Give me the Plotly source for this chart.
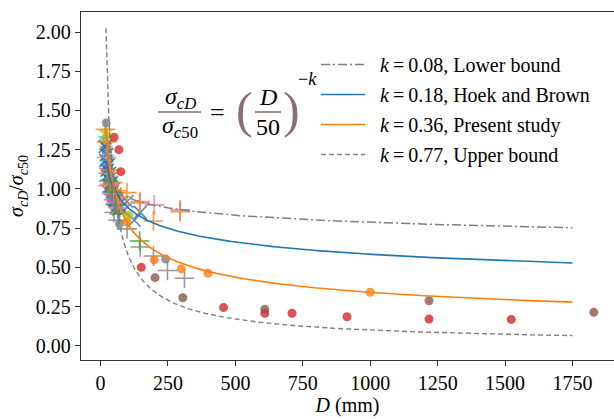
import numpy as np
import plotly.graph_objects as go

# Size-effect model curves: sigma_cD / sigma_c50 = (D / 50)^(-k)
k_values = [0.08, 0.18, 0.36, 0.77]
curve_labels = ["Lower bound", "Hoek and Brown", "Present study", "Upper bound"]
D_ref = 50.0
D_min, D_max = 20.0, 1750.0

# Test data, one array pair per marker group (D in mm, normalized strength)
red_D = [50, 68, 75, 151, 456, 609, 710, 914, 1218, 1523]
red_r = [1.33, 1.25, 1.11, 0.50, 0.243, 0.207, 0.207, 0.185, 0.170, 0.168]

brown_D = [202, 305, 609, 1218, 1829]
brown_r = [0.434, 0.306, 0.232, 0.287, 0.213]

gray_dot_D = [21, 70, 241]
gray_dot_r = [1.42, 0.777, 0.553]

orange_dot_D = [98, 199, 299, 398, 1000]
orange_dot_r = [0.79, 0.547, 0.49, 0.462, 0.341]

olive_dot_D = [103]
olive_dot_r = [0.83]

blue_x_D = [17, 19, 22, 24, 27, 30, 33, 36, 40, 44, 48, 52, 57, 62, 68, 75, 85, 98, 125, 147]
blue_x_r = [1.27, 1.18, 1.22, 1.12, 1.15, 1.06, 1.10, 1.02, 1.04, 0.98, 1.00, 0.96,
            0.93, 0.94, 0.90, 0.88, 0.86, 0.92, 0.80, 0.85]

cyan_D = [16, 18, 21, 23, 26, 29, 32, 35, 38, 42, 46]
cyan_r = [1.32, 1.24, 1.28, 1.16, 1.20, 1.08, 1.12, 1.03, 1.06, 0.99, 0.96]

olive_star_D = [19, 21, 24, 28, 31, 35, 40, 45, 55]
olive_star_r = [1.36, 1.30, 1.24, 1.18, 1.09, 1.02, 0.98, 0.93, 0.89]

purple_D = [18, 20, 23, 26, 30, 34, 38, 43, 50, 58]
purple_r = [1.12, 1.26, 1.05, 1.14, 1.00, 1.07, 0.95, 0.92, 0.88, 0.86]

pink_D = [22, 27, 33, 40, 48, 56, 65, 80, 147, 199, 295]
pink_r = [1.20, 1.10, 1.03, 0.97, 0.93, 0.91, 0.88, 0.90, 0.919, 0.898, 0.866]

orange_plus_D = [18, 23, 28, 35, 45, 60, 75, 98, 145, 196, 295]
orange_plus_r = [1.38, 1.30, 1.02, 1.12, 1.04, 0.99, 0.95, 0.976, 0.91, 0.795, 0.855]

gray_plus_D = [50, 65, 98, 147, 196, 248, 311]
gray_plus_r = [0.85, 0.80, 0.745, 0.63, 0.572, 0.48, 0.43]

green_plus_D = [30, 42, 55, 70, 145]
green_plus_r = [1.05, 0.98, 0.90, 0.84, 0.668]

x_ticks = [0, 250, 500, 750, 1000, 1250, 1500, 1750]
y_ticks = [0.00, 0.25, 0.50, 0.75, 1.00, 1.25, 1.50, 1.75, 2.00]

SERIF = "Liberation Serif"
BLUE, ORANGE, GREEN, RED = "#1f77b4", "#ff7f0e", "#2ca02c", "#d62728"
PURPLE, BROWN, PINK, GRAY = "#9467bd", "#8c564b", "#e377c2", "#7f7f7f"
OLIVE, CYAN = "#bcbd22", "#17becf"
BRACKET = "#8a7070"

fig = go.Figure()


def add_points(xs, ys, color, symbol, size, line=False):
    marker = dict(color=color, symbol=symbol, size=size, opacity=0.8)
    if line:
        marker["line"] = dict(color=color, width=1.6)
    else:
        marker["line"] = dict(width=0)
    fig.add_trace(go.Scatter(x=xs, y=ys, mode="markers", marker=marker,
                             showlegend=False, hoverinfo="skip"))


add_points(cyan_D, cyan_r, CYAN, "star", 11)
add_points(olive_star_D, olive_star_r, OLIVE, "star", 12)
add_points(purple_D, purple_r, PURPLE, "star", 11)
add_points(blue_x_D, blue_x_r, BLUE, "x-thin", 13, line=True)
add_points(pink_D, pink_r, PINK, "cross-thin", 14, line=True)
add_points(orange_plus_D, orange_plus_r, ORANGE, "cross-thin", 14, line=True)
add_points(gray_plus_D, gray_plus_r, GRAY, "cross-thin", 14, line=True)
add_points(green_plus_D, green_plus_r, GREEN, "cross-thin", 14, line=True)
add_points(red_D, red_r, RED, "circle", 9)
add_points(brown_D, brown_r, BROWN, "circle", 9)
add_points(gray_dot_D, gray_dot_r, GRAY, "circle", 9)
add_points(orange_dot_D, orange_dot_r, ORANGE, "circle", 9)
add_points(olive_dot_D, olive_dot_r, OLIVE, "circle", 10)

# Model curves
D_curve = np.linspace(D_min, D_max, 500)
curve_styles = [
    dict(color=GRAY, width=1.5, dash="9px,3px,2px,3px"),
    dict(color=BLUE, width=1.6, dash="solid"),
    dict(color=ORANGE, width=1.6, dash="solid"),
    dict(color=GRAY, width=1.4, dash="5px,3px"),
]
for i, (k, label, style) in enumerate(zip(k_values, curve_labels, curve_styles)):
    fig.add_trace(go.Scatter(
        x=D_curve, y=(D_curve / D_ref) ** (-k), mode="lines", line=style,
        name=f"\u2002<i>k</i>\u2009=\u2009{k:.2f}, {label}", legendgroup=f"g{i}",
    ))

W, H = 614, 419
ML, MR, MT, MB = 81, 0, 12, 59


def px(xp, yp):
    """Pixel position in the page to paper coordinates."""
    return (xp - ML) / (W - ML - MR), 1 - (yp - MT) / (H - MT - MB)


annotations = []
shapes = []


def text(xp, yp, s, size, color="black", xanchor="center"):
    x, y = px(xp, yp)
    annotations.append(dict(x=x, y=y, xref="paper", yref="paper", text=s,
                            showarrow=False, xanchor=xanchor, yanchor="middle",
                            font=dict(family=SERIF, size=size, color=color)))


def hbar(x0p, x1p, yp, color=BRACKET):
    x0, y = px(x0p, yp)
    x1, _ = px(x1p, yp)
    shapes.append(dict(type="line", xref="paper", yref="paper", x0=x0, x1=x1,
                       y0=y, y1=y, line=dict(color=color, width=1.6)))


# Formula: sigma_cD / sigma_c50 = (D/50)^-k
text(180, 98, "<i>σ</i><sub><i>cD</i></sub>", 24)
hbar(158, 201, 112)
text(180, 127, "<i>σ</i><sub><i>c</i>50</sub>", 24)
text(217, 112, "=", 26)
text(244, 110, "(", 50, color=BRACKET)
text(268, 97, "<i>D</i>", 24)
hbar(255, 281, 112)
text(268, 127, "50", 24)
text(291, 110, ")", 50, color=BRACKET)
text(307, 79, "−<i>k</i>", 18)

fig.update_layout(
    width=W, height=H,
    margin=dict(l=ML, r=MR, t=MT, b=MB),
    paper_bgcolor="white", plot_bgcolor="white",
    font=dict(family=SERIF, size=20, color="black"),
    showlegend=True,
    legend=dict(x=px(316, 0)[0], y=px(0, 45)[1], xanchor="left", yanchor="top",
                bgcolor="rgba(0,0,0,0)", borderwidth=0, itemwidth=44,
                tracegroupgap=1, font=dict(family=SERIF, size=20)),
    annotations=annotations,
    shapes=shapes,
)
fig.update_xaxes(
    range=[-72.6, 1904], tickvals=x_ticks, ticktext=[str(v) for v in x_ticks],
    showgrid=False, zeroline=False, showline=True, linecolor="#333", linewidth=1.3,
    mirror=True, ticks="outside", ticklen=5, tickcolor="#333",
    tickfont=dict(family=SERIF, size=20),
    title=dict(text="<i>D</i> (mm)", font=dict(family=SERIF, size=20), standoff=3),
)
fig.update_yaxes(
    range=[-0.091, 2.128], tickvals=y_ticks, ticktext=[f"{v:.2f}" for v in y_ticks],
    showgrid=False, zeroline=False, showline=True, linecolor="#333", linewidth=1.3,
    ticks="outside", ticklen=5, tickcolor="#333",
    tickfont=dict(family=SERIF, size=20),
    title=dict(text="<i>σ</i><sub><i>cD</i></sub>/<i>σ</i><sub><i>c</i>50</sub>",
               font=dict(family=SERIF, size=20), standoff=6),
)

fig.write_html("out.html")
